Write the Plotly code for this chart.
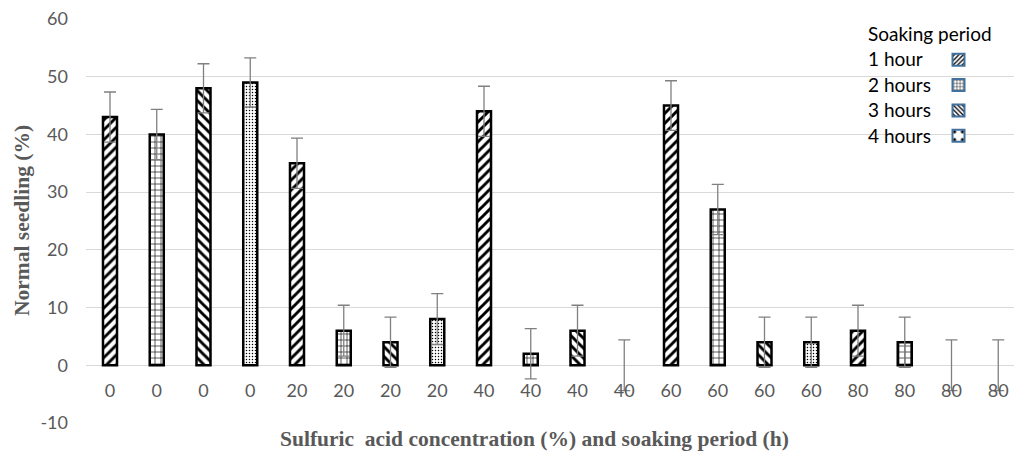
import plotly.graph_objects as go

# ---------------- data ----------------
categories = ["0", "0", "0", "0", "20", "20", "20", "20", "40", "40",
              "40", "40", "60", "60", "60", "60", "80", "80", "80", "80"]
soaking = [1, 2, 3, 4, 1, 2, 3, 4, 1, 2, 3, 4, 1, 2, 3, 4, 1, 2, 3, 4]
normal_seedling = [43, 40, 48, 49, 35, 6, 4, 8, 44, 2, 6, 0, 45, 27, 4, 4, 6, 4, 0, 0]
error_vals = [4.35, 4.35, 4.25, 4.25, 4.35, 4.4, 4.35, 4.4, 4.35, 4.35,
              4.4, 4.4, 4.3, 4.35, 4.35, 4.35, 4.4, 4.35, 4.4, 4.4]
period_names = ["1 hour", "2 hours", "3 hours", "4 hours"]
legend_title = "Soaking period"
y_ticks = [-10, 0, 10, 20, 30, 40, 50, 60]

# ---------------- layout geometry ----------------
W, H = 1014, 453
ML, MR, MT, MB = 86, 0, 19, 30
PW, PH = W - ML - MR, H - MT - MB
FIRST_CENTER_PX, STEP_PX = 110, 46.75


def px_x(p):
    return (p - ML) / PW


def px_y(p):
    return (H - MB - p) / PH


shapes = {1: "/", 2: "+", 3: "\\", 4: "."}
pat_size = {1: 7, 2: 6, 3: 7, 4: 3}
pat_sol = {1: 0.42, 2: 0.2, 3: 0.42, 4: 0.2}

fig = go.Figure()
xs = list(range(len(categories)))

for k in range(1, 5):
    idx = [i for i in xs if soaking[i] == k]
    fig.add_trace(go.Bar(
        x=[xs[i] for i in idx],
        y=[normal_seedling[i] for i in idx],
        width=0.3,
        marker=dict(
            color="white",
            line=dict(color="black",
                      width=[2.5 if normal_seedling[i] != 0 else 0 for i in idx]),
            pattern=dict(shape=shapes[k], fgcolor="#000000", bgcolor="#ffffff",
                         fgopacity=1, fillmode="replace",
                         size=pat_size[k], solidity=pat_sol[k]),
        ),
        error_y=dict(type="data", array=[error_vals[i] for i in idx], symmetric=True,
                     color="#808080", thickness=1.3, width=6),
        showlegend=False,
        hoverinfo="skip",
    ))

# legend-only icons
leg_size = {1: 4, 2: 4, 3: 4, 4: 12}
leg_sol = {1: 0.4, 2: 0.25, 3: 0.4, 4: 0.14}
for k in range(1, 5):
    fig.add_trace(go.Bar(
        x=[None], y=[None],
        name=" ",
        marker=dict(
            color="white",
            line=dict(color="#41719c", width=2),
            pattern=dict(shape=shapes[k], fgcolor="#000000", bgcolor="#ffffff",
                         fgopacity=1, fillmode="replace",
                         size=leg_size[k], solidity=leg_sol[k]),
        ),
        showlegend=True,
    ))

annotations = []
# legend title and labels
annotations.append(dict(text=legend_title, x=px_x(866), y=px_y(33), xref="paper", yref="paper",
                        xanchor="left", yanchor="middle", showarrow=False,
                        font=dict(family="Lato", size=19, color="black")))
for n, name in enumerate(period_names):
    annotations.append(dict(text=name, x=px_x(866), y=px_y(59 + 25.5 * n), xref="paper", yref="paper",
                            xanchor="left", yanchor="middle", showarrow=False,
                            font=dict(family="Lato", size=19, color="black")))
# axis titles
annotations.append(dict(text="<b>Normal seedling (%)</b>", x=px_x(22), y=px_y(221), xref="paper", yref="paper",
                        xanchor="center", yanchor="middle", textangle=-90, showarrow=False,
                        font=dict(family="Liberation Serif", size=21.5, color="#595959")))
annotations.append(dict(text="<b>Sulfuric\u00a0 acid concentration (%) and soaking period (h)</b>",
                        x=px_x(534), y=px_y(439), xref="paper", yref="paper",
                        xanchor="center", yanchor="middle", showarrow=False,
                        font=dict(family="Liberation Serif", size=21.5, color="#595959")))

fig.update_layout(
    width=W, height=H,
    margin=dict(l=ML, r=MR, t=MT, b=MB, pad=0),
    paper_bgcolor="white", plot_bgcolor="white",
    barmode="overlay",
    showlegend=True,
    legend=dict(x=px_x(938.5), y=px_y(42), xanchor="left", yanchor="top",
                xref="paper", yref="paper",
                bgcolor="rgba(0,0,0,0)", borderwidth=0,
                font=dict(family="Lato", size=17.2), tracegroupgap=0),
    xaxis=dict(
        range=[(ML - FIRST_CENTER_PX) / STEP_PX, (W - MR - FIRST_CENTER_PX) / STEP_PX],
        tickmode="array", tickvals=xs, ticktext=categories,
        showgrid=False, zeroline=False, showline=False, ticks="",
        anchor="free", position=(0 - y_ticks[0]) / (y_ticks[-1] - y_ticks[0]),
        tickfont=dict(family="Lato", size=18, color="#595959"),
        ticklabelstandoff=13,
        fixedrange=True,
    ),
    yaxis=dict(
        range=[y_ticks[0], y_ticks[-1]],
        tickmode="array", tickvals=y_ticks, ticktext=[str(v) for v in y_ticks],
        showgrid=True, gridcolor="#d9d9d9", gridwidth=1,
        zeroline=False, showline=False, ticks="",
        tickfont=dict(family="Lato", size=18, color="#595959"),
        ticklabelstandoff=17,
        fixedrange=True,
    ),
    annotations=annotations,
    hovermode=False,
)

fig.write_html("out.html", config={"displayModeBar": False})
